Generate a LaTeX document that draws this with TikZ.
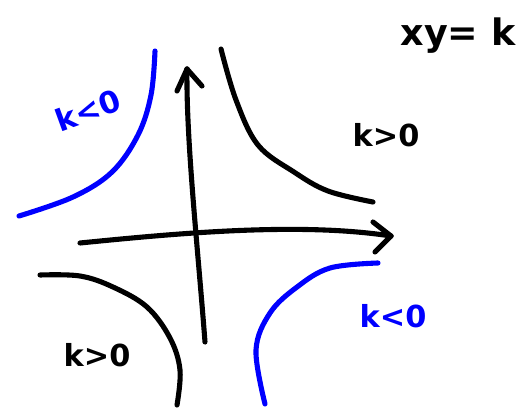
\documentclass[tikz,border=0pt]{standalone}
\usepackage{fontspec}
\setsansfont{DejaVu Sans}
\usepackage{tikz}
\usetikzlibrary{positioning}

\begin{document}
\begin{tikzpicture}[
			x=0.02cm, y=-0.02cm,
			pen/.style={line width=2.9pt, line cap=round, line join=round},
			axis/.style={pen, draw=black},
			posbranch/.style={pen, draw=black},
			negbranch/.style={pen, draw=blue},
			hand/.style={font=\sffamily\bfseries\LARGE},
			]
			\useasboundingbox (0,0) rectangle (531,413);
			
			% axes
			\coordinate (ybot) at (205,342);
			\coordinate (ytop) at (187,69);
			\coordinate (xleft) at (80,243);
			\coordinate (xright) at (391,236);
			\draw[axis] (ybot) .. controls (198,250) and (186,140) .. (ytop);
			\draw[axis] (ytop) -- (177,91);
			\draw[axis] (ytop) -- (202,86);
			\draw[axis] (xleft) .. controls (180,233) and (300,222) .. (xright);
			\draw[axis] (xright) -- (373,222);
			\draw[axis] (xright) -- (375,252);
			
			% k>0 branches
			\draw[posbranch] plot[smooth, tension=0.6] coordinates {(221,49) (236,100) (258,145) (294,172) (328,191) (373,202)};
			\draw[posbranch] plot[smooth, tension=0.6] coordinates {(40,275) (80,276) (113,287) (147,307) (170,338) (180,370) (177,405)};
			
			% k<0 branches
			\draw[negbranch] plot[smooth, tension=0.6] coordinates {(155,51) (151,95) (138,135) (112,172) (73,197) (19,216)};
			\draw[negbranch] plot[smooth, tension=0.6] coordinates {(378,263) (330,268) (297,287) (270,313) (256,350) (265,404)};
			
			% labels
			\node[hand, font=\sffamily\bfseries\huge] (eq) at (458,36) {xy= k};
			\node[hand] (kpos1) at (386,135) {k>0};
			\node[hand] (kpos2) at (97,355) {k>0};
			\node[hand, text=blue, rotate=20, inner sep=0pt] (kneg1) at (88,110) {k<0};
			\node[hand, text=blue] (kneg2) at (393,316) {k<0};
		\end{tikzpicture}
\end{document}
